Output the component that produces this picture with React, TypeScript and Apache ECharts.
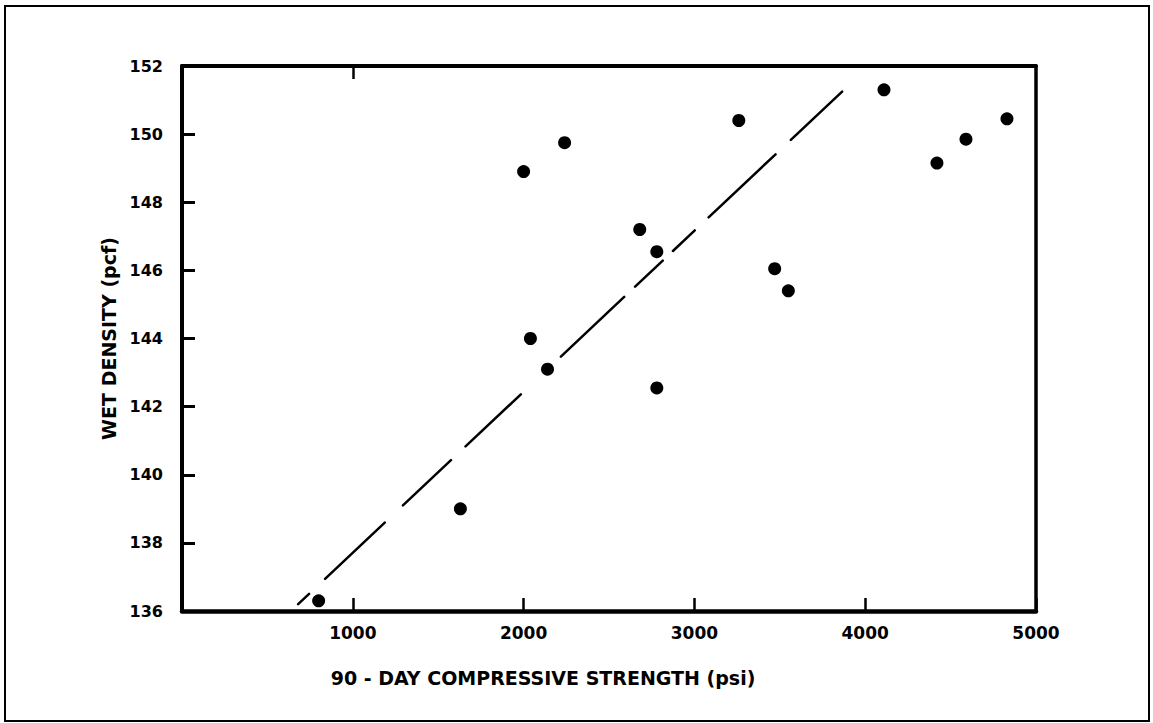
import React, { useEffect, useRef } from "react";
import * as echarts from "echarts";

// Observed data points (90-day compressive strength psi, wet density pcf)
const strengthPsi = [800, 1630, 2000, 2240, 2040, 2140, 2680, 2780, 2780, 3260, 3470, 3550, 4110, 4420, 4590, 4830];
const wetDensity = [136.3, 139.0, 148.9, 149.75, 144.0, 143.1, 147.2, 146.55, 142.55, 150.4, 146.05, 145.4, 151.3, 149.15, 149.85, 150.45];

// Dashed trend line end points
const trendX = [680, 3865];
const trendY = [136.2, 151.25];

const xTickValues = [1000, 2000, 3000, 4000, 5000];
const yTickValues = [136, 138, 140, 142, 144, 146, 148, 150, 152];
const topTickValues = [1000];

const xName = "90 - DAY COMPRESSIVE STRENGTH (psi)";
const yName = "WET DENSITY (pcf)";

const FONT = "DejaVu Sans";

export default function App() {
  const ref = useRef<HTMLDivElement>(null);
  useEffect(() => {
    if (!ref.current) return;
    const chart = echarts.init(ref.current, null, { renderer: "svg" });
    const points = strengthPsi.map((x, i) => [x, wetDensity[i]]);
    const trend = trendX.map((x, i) => [x, trendY[i]]);
    chart.setOption({
      animation: false,
      backgroundColor: "#ffffff",
      grid: { left: 182, right: 117, top: 66, bottom: 112 },
      graphic: [
        {
          type: "rect",
          shape: { x: 5, y: 6, width: 1144, height: 715 },
          style: { fill: "none", stroke: "#000", lineWidth: 2 },
          z: 10,
        },
      ],
      xAxis: [
        {
          type: "value",
          position: "bottom",
          min: 0,
          max: 5000,
          interval: 1000,
          name: xName,
          nameLocation: "middle",
          nameGap: 57,
          nameTextStyle: {
            fontFamily: FONT,
            fontWeight: "bold",
            fontSize: 19,
            color: "#000",
            padding: [0, 132, 0, 0],
          },
          axisLine: { show: true, onZero: false, lineStyle: { color: "#000", width: 4.5 } },
          axisTick: { show: true, inside: true, length: 13, lineStyle: { color: "#000", width: 2.5 } },
          axisLabel: {
            color: "#000",
            fontFamily: FONT,
            fontWeight: "bold",
            fontSize: 17,
            margin: 13,
            formatter: (v: number) => (xTickValues.includes(v) ? String(v) : ""),
          },
          splitLine: { show: false },
        },
        {
          type: "value",
          position: "top",
          min: 0,
          max: 5000,
          interval: 1000,
          axisLine: { show: true, onZero: false, lineStyle: { color: "#000", width: 4 } },
          axisTick: {
            show: true,
            inside: true,
            length: 13,
            customValues: topTickValues,
            lineStyle: { color: "#000", width: 2.5 },
          },
          axisLabel: { show: false },
          splitLine: { show: false },
        },
      ],
      yAxis: [
        {
          type: "value",
          position: "left",
          min: 136,
          max: 152,
          interval: 2,
          name: yName,
          nameLocation: "middle",
          nameGap: 60,
          nameRotate: 90,
          nameTextStyle: { fontFamily: FONT, fontWeight: "bold", fontSize: 19, color: "#000" },
          axisLine: { show: true, onZero: false, lineStyle: { color: "#000", width: 4 } },
          axisTick: { show: true, inside: true, length: 13, lineStyle: { color: "#000", width: 3 } },
          axisLabel: {
            color: "#000",
            fontFamily: FONT,
            fontWeight: "bold",
            fontSize: 16,
            margin: 19,
            formatter: (v: number) => (yTickValues.includes(v) ? String(v) : ""),
          },
          splitLine: { show: false },
        },
        {
          type: "value",
          position: "right",
          min: 136,
          max: 152,
          interval: 2,
          axisLine: { show: true, onZero: false, lineStyle: { color: "#000", width: 3.5 } },
          axisTick: { show: false },
          axisLabel: { show: false },
          splitLine: { show: false },
        },
      ],
      series: [
        {
          type: "line",
          data: trend,
          showSymbol: false,
          symbol: "none",
          lineStyle: {
            color: "#000",
            width: 2.5,
            type: [15, 22, 82, 25, 66, 20, 76, 55, 87, 15, 38, 14, 30, 19, 92, 21, 80, 10],
            cap: "round",
          },
          z: 2,
        },
        {
          type: "scatter",
          data: points,
          symbol: "circle",
          symbolSize: 13,
          itemStyle: { color: "#000", opacity: 1 },
          z: 3,
        },
      ],
    });
    return () => chart.dispose();
  }, []);
  return (
    <div
      ref={ref}
      style={{ position: "fixed", left: 0, top: 0, width: 1153, height: 723, background: "#fff" }}
    />
  );
}
